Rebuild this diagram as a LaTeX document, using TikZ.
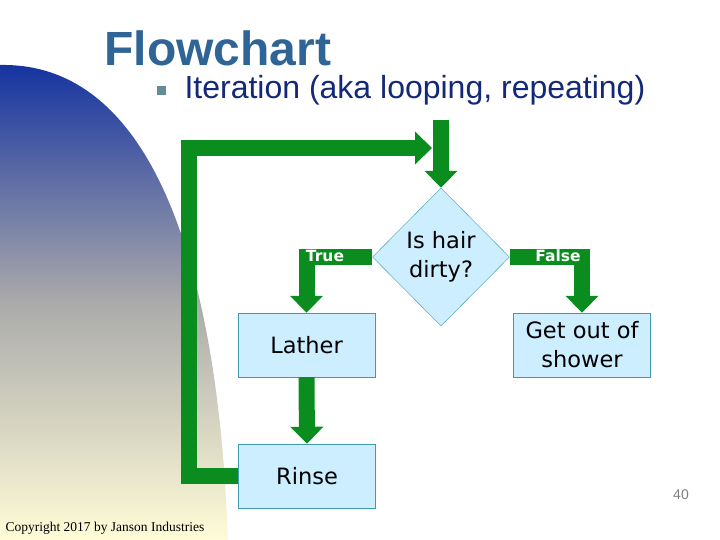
\documentclass[tikz,border=0pt]{standalone}
\usepackage{fontspec}
\setmainfont{DejaVu Sans}
\newfontfamily\arialf{Liberation Sans}
\newfontfamily\timesf{Liberation Serif}
\usetikzlibrary{shapes.geometric,arrows.meta}
\definecolor{fcgreen}{HTML}{0A8C1E}
\definecolor{boxfill}{HTML}{CCEEFF}
\definecolor{boxline}{HTML}{3F9AAE}
\definecolor{titleblue}{HTML}{2F6496}
\begin{document}
\begin{tikzpicture}[x=1pt,y=-1pt,
  box/.style={draw=boxline,fill=boxfill,minimum width=137pt,minimum height=64pt,inner sep=0pt,font=\fontsize{22.5}{29}\selectfont,align=center},
  fat/.style={draw=fcgreen,line width=16pt,line join=miter,-{Triangle[width=32pt,length=17pt]}},
  lab/.style={text=white,font=\bfseries\fontsize{15.5}{18}\selectfont}]
\useasboundingbox (0,0) rectangle (720,540);
\shade[top color={rgb,255:red,20;green,50;blue,160},bottom color={rgb,255:red,255;green,252;blue,215},middle color={rgb,255:red,170;green,170;blue,170}]
  (0,65) .. controls (150,62) and (218,260) .. (228,540) -- (0,540) -- cycle;
\node[anchor=west,text=titleblue,font=\arialf\bfseries\fontsize{48}{54}\selectfont] (title) at (101,48) {Flowchart};
\node[fill={rgb,255:red,100;green,140;blue,150},minimum size=9pt,inner sep=0pt] (bul) at (161,91) {};
\node[anchor=west,font=\arialf\fontsize{32}{36}\selectfont,text={rgb,255:red,20;green,40;blue,120}] (sub) at (181,90) {Iteration (aka looping, repeating)};
\node[draw=boxline,fill=boxfill,shape=diamond,minimum width=137pt,minimum height=138pt,inner sep=0pt,font=\fontsize{22.5}{29}\selectfont,align=center] (dia) at (441,257) {Is hair\\dirty?};
\node[box] (lather) at (306.5,345) {Lather};
\node[box] (get) at (582,345) {Get out of\\shower};
\node[box] (rinse) at (307,476) {Rinse};
\coordinate (topstart) at (441,120);
\coordinate (loopend) at (432,148);
\draw[fat] (topstart) -- (dia.north);
\draw[fat] (dia.west) -| (lather.north);
\draw[fat] (dia.east) -| (get.north);
\draw[fat] (lather.south) -- (rinse.north);
\draw[fat] (rinse.west) -- ++(-49,0) |- (loopend);
\node[lab] (t) at (325,256) {True};
\node[lab] (f) at (558,256) {False};
\node[text=gray,font=\arialf\fontsize{14}{16}\selectfont] (num) at (681,495) {40};
\node[anchor=west,font=\timesf\fontsize{13.5}{16}\selectfont] (copy) at (2,528) {Copyright 2017 by Janson Industries};
\end{tikzpicture}
\end{document}
